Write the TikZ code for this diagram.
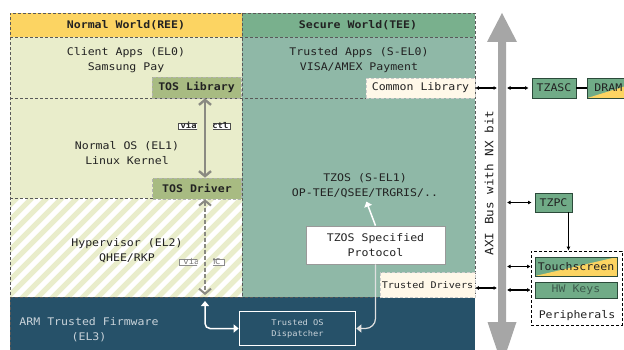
\documentclass[tikz,border=0pt]{standalone}
\usepackage{fontspec}
\setmainfont{DejaVu Sans Mono}[FakeStretch=1.1]
\usetikzlibrary{arrows.meta,calc}

\definecolor{reeHead}{HTML}{FCD462}
\definecolor{teeHead}{HTML}{79B08D}
\definecolor{reeBody}{HTML}{E9EDCB}
\definecolor{teeBody}{HTML}{8FB8A7}
\definecolor{tosFill}{HTML}{A8BB82}
\definecolor{fwDark}{HTML}{265169}
\definecolor{fwText}{HTML}{C9D3DA}
\definecolor{busGray}{HTML}{A6A6A6}
\definecolor{hwGreen}{HTML}{70AB87}
\definecolor{hwEdge}{HTML}{2B4A3A}
\definecolor{libCream}{HTML}{FFF8E9}
\definecolor{linkGray}{HTML}{8A8A82}
\definecolor{ink}{HTML}{222222}
\definecolor{keyInk}{HTML}{3C5A4C}

\tikzset{
  chev/.tip={Straight Barb[length=5pt,width=12pt]},
  wtip/.tip={Triangle[length=5pt,width=8pt]}
}

\begin{document}
\begin{tikzpicture}[x=1pt,y=-1pt,
  every node/.style={inner sep=0pt, align=center, text=ink,
    font=\fontsize{10.5}{15}\selectfont},
  edge/.style={draw=black!65, line width=0.6pt, densely dashed},
  tosbox/.style={fill=tosFill, draw=black!30, densely dashed, line width=0.6pt,
    minimum width=89pt, minimum height=21pt, font=\bfseries\fontsize{10.5}{15}\selectfont},
  libbox/.style={fill=libCream, draw=black!20, densely dashed, line width=0.6pt},
  hwbox/.style={fill=hwGreen, draw=hwEdge, line width=0.9pt},
  splitfill/.style={path picture={\fill[reeHead] (path picture bounding box.south west)
      -- (path picture bounding box.north east) -- (path picture bounding box.south east) -- cycle;}},
  tag/.style={fill=white, draw=black!70, line width=0.5pt, inner xsep=2pt,
    text height=5.5pt, text depth=0.8pt},
  link/.style={black, line width=1.1pt, {Latex[length=3.5pt,width=4pt]}-{Latex[length=3.5pt,width=4pt]}},
  wlink/.style={white, line width=1.5pt}
]
\clip (0,0) rectangle (624,350);
\fill[white] (0,0) rectangle (624,350);

% the two worlds and the firmware layer
\fill[reeHead] (10,13) rectangle (242,37);
\fill[teeHead] (242,13) rectangle (475,37);
\fill[reeBody] (10,37) rectangle (242,198);
\fill[teeBody] (242,37) rectangle (475,297);
\begin{scope}
  \clip (10,198) rectangle (242,297);
  \foreach \k in {-8,...,17}
    \draw[reeBody, line width=5.3pt] (\k*15, 305) -- ++(120,-120);
\end{scope}
\fill[fwDark] (10,297) rectangle (475,350);

% dashed boundaries
\draw[edge] (10,350) -- (10,13) -- (475,13) -- (475,297);
\draw[edge] (10,37) -- (475,37);
\draw[edge] (242,13) -- (242,297);
\draw[edge] (10,98) -- (366,98);
\draw[edge] (10,198) -- (242,198);
\draw[edge] (10,297) -- (475,297);

% AXI bus
\fill[busGray] (502,13) -- (517,42) -- (506,42) -- (506,322) -- (516.5,322)
  -- (502,365) -- (487.5,322) -- (498,322) -- (498,42) -- (487,42) -- cycle;
\coordinate (busW) at (497,0);
\coordinate (busE) at (507,0);
\node[rotate=90, font=\fontsize{11.5}{14}\selectfont] (axi) at (489,183) {AXI Bus with NX bit};

% headings and layer texts
\node[font=\bfseries\fontsize{10.5}{15}\selectfont] (reeT) at (126,25) {Normal World(REE)};
\node[font=\bfseries\fontsize{10.5}{15}\selectfont] (teeT) at (358,25) {Secure World(TEE)};
\node (capps) at (126,60.5) {Client Apps (EL0)\\Samsung Pay};
\node (tapps) at (359,60.5) {Trusted Apps (S-EL0)\\VISA/AMEX Payment};
\node (nos) at (127,153) {Normal OS (EL1)\\Linux Kernel};
\node (hyp) at (127,251) {Hypervisor (EL2)\\QHEE/RKP};
\node (tzos) at (365,185.5) {TZOS (S-EL1)\\OP-TEE/QSEE/TRGRIS/..};
\node[text=fwText] (atf) at (89,329.5) {ARM Trusted Firmware\\(EL3)};

% boxes
\node[tosbox] (tlib) at (196.5,87.5) {TOS Library};
\node[tosbox] (tdrv) at (197,188.5) {TOS Driver};
\node[libbox, minimum width=109pt, minimum height=20pt] (clib) at (420.5,88) {Common Library};
\node[libbox, minimum width=95pt, minimum height=25pt, font=\fontsize{9.2}{12}\selectfont]
  (tdrvs) at (427.5,285) {Trusted Drivers};
\node[fill=white, draw=black!40, line width=0.7pt, minimum width=139pt, minimum height=38pt]
  (proto) at (375.5,245) {TZOS Specified\\Protocol};
\node[fill=fwDark, draw=white, line width=1.6pt, minimum width=116pt, minimum height=34pt,
  text=fwText, font=\fontsize{7.9}{11}\selectfont] (disp) at (297.5,328.5) {Trusted OS\\Dispatcher};

% hardware side
\node[hwbox, minimum width=44pt, minimum height=20pt] (tzasc) at (554,88) {TZASC};
\node[hwbox, splitfill, anchor=west, minimum height=20pt, text width=50pt, inner xsep=7pt,
  align=left] (dram) at (587,88) {DRAM};
\node[hwbox, minimum width=37pt, minimum height=19pt] (tzpc) at (553.5,202.5) {TZPC};
\node[draw=black, densely dashed, line width=0.7pt, minimum width=91pt, minimum height=74pt]
  (periph) at (576.5,288) {};
\node (plabel) at (577,316) {Peripherals};
\node[hwbox, splitfill, minimum width=82pt, minimum height=19pt] (touch) at (576,266.5) {Touchscreen};
\node[hwbox, minimum width=82pt, minimum height=16pt, text=keyInk] (keys) at (576,290) {HW Keys};

% bus connections
\draw[link] (clib.east) -- (clib.east -| busW);
\draw[link, shorten >=3pt] (tzasc.west -| busE) -- (tzasc.west);
\draw[black, line width=1.6pt] (tzasc.east) -- (dram.west);
\draw[link, shorten >=3pt] (tzpc.west -| busE) -- (tzpc.west);
\draw[link] (touch.west -| busE) -- (periph.west |- touch.west);
\draw[link] (keys.west -| busE) -- (periph.west |- keys.west);
\path ($(tdrvs.east)+(0,3)$) coordinate (tdOut);
\draw[link] (tdOut) -- (tdOut -| busW);
\path ($(tzpc.south east)+(-4,0)$) coordinate (tzpcOut);
\draw[black, line width=0.8pt, -{Latex[length=4pt,width=4pt]}] (tzpcOut) -- (tzpcOut |- periph.north);

% labels on the driver channel, opened where the channel passes
\coordinate (axis) at (205,0);
\begin{scope}[even odd rule]
  \clip (0,0) rectangle (624,350) (197,0) rectangle (213,350);
  \node[tag, font=\bfseries\fontsize{8}{9}\selectfont] (ioctl) at (204.5,126) {via ioctl};
  \node[tag, draw=black!45, text=black!55, inner xsep=4pt, font=\fontsize{8}{9}\selectfont]
    (smc) at (202,262.5) {via SMC};
\end{scope}

% normal world channel
\draw[linkGray, line width=2.4pt, chev-chev] (tlib.south -| axis) -- (tdrv.north -| axis);
\coordinate (fwEdge) at (205,295);
\draw[linkGray, line width=2pt, dash pattern=on 4pt off 2pt, chev-chev]
  (tdrv.south -| axis) -- (fwEdge);

% firmware and secure world paths
\coordinate (fwIn) at (205,301);
\draw[wlink, rounded corners=5pt, wtip-wtip] (fwIn) |- (disp.west);
\draw[white!88!black, line width=1.2pt, rounded corners=10pt, -wtip] (proto.south) |- (disp.east);
\draw[wlink, shorten >=4pt, -wtip] (proto.north) -- (tzos.south);
\end{tikzpicture}
\end{document}
